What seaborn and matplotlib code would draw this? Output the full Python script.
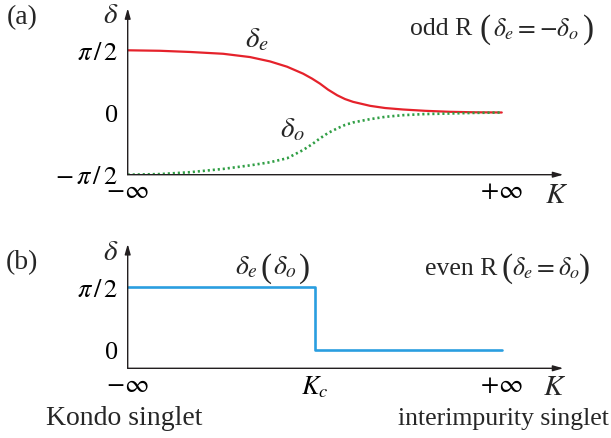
import matplotlib
matplotlib.use("Agg")
import matplotlib.pyplot as plt
import seaborn as sns
import pandas as pd

# ---------------- data ----------------
# K axis: -1 stands for -inf, +1 for +inf, 0 for K_c ; delta in units of pi/2
k_a = [-1.0, -0.827, -0.667, -0.490, -0.346, -0.239, -0.148, -0.062, -0.014, 0.028,
       0.071, 0.120, 0.162, 0.205, 0.296, 0.376, 0.472, 0.590, 0.724, 0.858, 1.0]
delta_e = [1.0, 0.992, 0.973, 0.944, 0.891, 0.821, 0.736, 0.624, 0.544, 0.464,
           0.368, 0.277, 0.216, 0.171, 0.107, 0.072, 0.048, 0.027, 0.011, 0.003, 0.0]
delta_o = [-1.0, -0.99, -0.96, -0.907, -0.85, -0.80, -0.736, -0.603, -0.51, -0.416,
           -0.33, -0.256, -0.20, -0.16, -0.107, -0.07, -0.043, -0.025, -0.016, -0.006, 0.0]

k_b = [-1.0, 0.0, 1.0]
delta_b = [1.0, 0.0, 0.0]

yticks_a = [-1, 0, 1]
ylabels_a = [r"$-\,\pi\,/\,2$", "0", r"$\pi\,/\,2$"]
xticks_a = [-1, 1]
xlabels_a = [r"$-\infty$", r"$+\infty$"]
yticks_b = [0, 1]
ylabels_b = ["0", r"$\pi\,/\,2$"]
xticks_b = [-1, 0, 1]
xlabels_b = [r"$-\infty$", r"$K_c$", r"$+\infty$"]

# ---------------- style ----------------
sns.set_style("white")
plt.rcParams["font.family"] = ["Liberation Serif", "DejaVu Serif"]
plt.rcParams["mathtext.fontset"] = "stix"

W, H = 611, 439
fig = plt.figure(figsize=(W / 100, H / 100), dpi=100)

def px(x, y):
    return x / W, 1 - y / H

x0, x1 = 127.7, 563.3
axA = fig.add_axes([x0 / W, 1 - 175.7 / H, (x1 - x0) / W, (175.7 - 9.3) / H])
axB = fig.add_axes([x0 / W, 1 - 369.3 / H, (x1 - x0) / W, (369.3 - 245.0) / H])

dfa = pd.DataFrame({"K": k_a, "de": delta_e, "do": delta_o})
dfb = pd.DataFrame({"K": k_b, "d": delta_b})

sns.lineplot(data=dfa, x="K", y="de", ax=axA, color="#e5222b", lw=1.6,
             estimator=None, sort=False)
sns.lineplot(data=dfa, x="K", y="do", ax=axA, color="#2f9e44", lw=1.9,
             estimator=None, sort=False, linestyle=(0, (0.8, 1.1)))
sns.lineplot(data=dfb, x="K", y="d", ax=axB, color="#2a9ee0", lw=1.9,
             estimator=None, sort=False, drawstyle="steps-post")

axA.set_xlim(-1, 1.329)
axA.set_ylim(-1, 1.675)
axB.set_xlim(-1, 1.329)
axB.set_ylim(-0.292, 1.69)

for ax, yt, yl, xt, xl in [(axA, yticks_a, ylabels_a, xticks_a, xlabels_a),
                           (axB, yticks_b, ylabels_b, xticks_b, xlabels_b)]:
    for s in ax.spines.values():
        s.set_visible(False)
    ax.set_xlabel("")
    ax.set_ylabel("")
    ax.set_yticks(yt)
    ax.set_yticklabels(yl)
    ax.set_xticks(xt)
    ax.set_xticklabels(xl)
    ax.tick_params(axis="both", direction="in", length=6, width=0.9,
                   color="#555555", labelcolor="black", labelsize=19)
    ax.tick_params(axis="y", pad=7)
    ax.tick_params(axis="x", pad=4)
    ax.set_facecolor("none")
    arrow = dict(arrowstyle="-|>,head_length=0.6,head_width=0.17",
                 color="#231f20", lw=1.0, shrinkA=0, shrinkB=0)
    ax.annotate("", xy=(1, 0), xytext=(0, 0), xycoords="axes fraction",
                arrowprops=arrow, annotation_clip=False)
    ax.annotate("", xy=(0, 1), xytext=(0, 0), xycoords="axes fraction",
                arrowprops=arrow, annotation_clip=False)

def t(x, y, s, ha="center", size=20):
    fig.text(*px(x, y), s, ha=ha, va="center", fontsize=size)

t(22, 18, "(a)")
t(22, 263, "(b)")
t(110.7, 16, r"$\delta$", size=21)
t(110.7, 253, r"$\delta$", size=21)
t(257, 40, r"$\delta_e$", size=21)
t(292, 130, r"$\delta_o$", size=21)

# odd R (delta_e = -delta_o)
t(472, 29, "odd R", ha="right", size=18.5)
t(485, 30, "(", size=24)
t(536, 29, r"$\delta_e = -\delta_o$", size=18.5)
t(589, 30, ")", size=24)

# even R (delta_e = delta_o)
t(497, 269, "even R", ha="right", size=18.5)
t(507, 269, "(", size=24)
t(546, 268, r"$\delta_e = \delta_o$", size=18.5)
t(585, 269, ")", size=24)

# delta_e(delta_o)
t(246, 268, r"$\delta_e$", size=20)
t(266, 269, "(", size=24)
t(285, 268, r"$\delta_o$", size=20)
t(304, 269, ")", size=24)

t(557, 196, r"$K$", size=21)
t(555, 388, r"$K$", size=21)
t(124, 419, "Kondo singlet")
t(609, 419, "interimpurity singlet", ha="right", size=18.5)

fig.savefig("out.png", dpi=100)
